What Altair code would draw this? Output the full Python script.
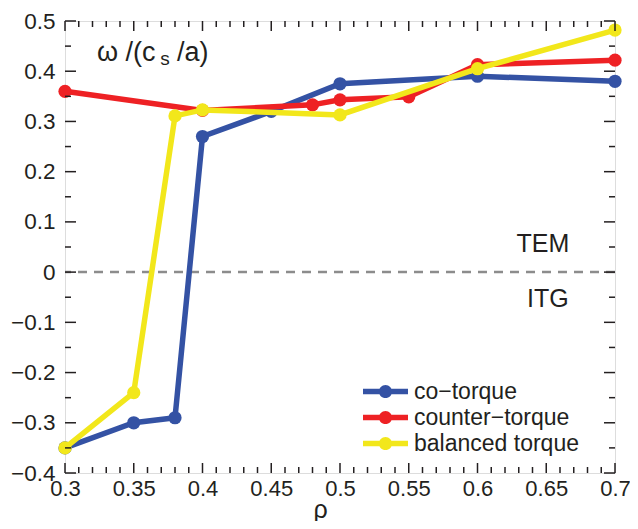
import altair as alt
import pandas as pd

# ---------------- data ----------------
series_names = ["co\u2212torque", "counter\u2212torque", "balanced torque"]
series_colors = ["#3452a4", "#ee2124", "#f2e71b"]

rho_co = [0.30, 0.35, 0.38, 0.40, 0.45, 0.50, 0.60, 0.70]
w_co = [-0.35, -0.30, -0.29, 0.27, 0.32, 0.375, 0.39, 0.38]

rho_counter = [0.30, 0.40, 0.48, 0.50, 0.55, 0.60, 0.70]
w_counter = [0.36, 0.322, 0.333, 0.343, 0.349, 0.413, 0.422]

rho_bal = [0.30, 0.35, 0.38, 0.40, 0.50, 0.60, 0.70]
w_bal = [-0.35, -0.24, 0.311, 0.323, 0.313, 0.405, 0.482]

x_major = [0.30, 0.35, 0.40, 0.45, 0.50, 0.55, 0.60, 0.65, 0.70]
x_minor = [0.31, 0.32, 0.33, 0.34, 0.36, 0.37, 0.38, 0.39, 0.41, 0.42, 0.43, 0.44,
           0.46, 0.47, 0.48, 0.49, 0.51, 0.52, 0.53, 0.54, 0.56, 0.57, 0.58, 0.59,
           0.61, 0.62, 0.63, 0.64, 0.66, 0.67, 0.68, 0.69]
y_major = [-0.4, -0.3, -0.2, -0.1, 0.0, 0.1, 0.2, 0.3, 0.4, 0.5]
y_minor = [-0.35, -0.25, -0.15, -0.05, 0.05, 0.15, 0.25, 0.35, 0.45]

title_main = ["\u03c9 /(c"]
title_main_x = [0.3232]
title_sub = ["s"]
title_sub_x = [0.3692]
title_tail = ["/a)"]
title_tail_x = [0.3814]
title_y = 0.42
title_sub_y = 0.412

regime_labels = ["TEM", "ITG"]
regime_x = [0.6476, 0.6512]
regime_y = [0.04, -0.07]

FONT = "Liberation Sans"
INK = "#231f20"
W, H = 550, 452

x_scale = alt.Scale(domain=[0.3, 0.7], nice=False, zero=False)
y_scale = alt.Scale(domain=[-0.4, 0.5], nice=False, zero=False)
color_scale = alt.Scale(domain=series_names, range=series_colors)

# legend glyph: thick line with a dot, drawn in units of 10 px (symbolSize 400)
legend_path = ("M-2.25,-0.28L2.25,-0.28L2.25,0.28L-2.25,0.28Z "
               "M0.66,0A0.66,0.66 0 1,1 -0.66,0A0.66,0.66 0 1,1 0.66,0Z")

x_axis = alt.Axis(values=x_major, format=".2~f", ticks=False, domain=False, grid=False,
                  labelFontSize=22, labelFont=FONT, labelColor=INK, labelPadding=5,
                  labelOverlap=False, labelFlush=False, labelBound=False,
                  title="\u03c1", titleFont=FONT, titleFontSize=25,
                  titleFontWeight="normal", titleColor=INK, titleX=255, titleY=44,
                  titleBaseline="alphabetic")
y_axis = alt.Axis(values=y_major, format=".2~f", ticks=False, domain=False, grid=False,
                  labelFontSize=22.5, labelFont=FONT, labelColor=INK, labelPadding=10,
                  labelOverlap=False, labelFlush=False, labelBound=False, title=None)

legend = alt.Legend(title=None, orient="none", legendX=309, legendY=359,
                    symbolType=legend_path, symbolSize=400, symbolStrokeWidth=0,
                    symbolOpacity=1, labelLimit=400,
                    labelFontSize=23, labelFont=FONT, labelColor=INK, labelOffset=17,
                    rowPadding=2, padding=0)

X = lambda f: alt.X(f, scale=x_scale, axis=x_axis)
Y = lambda f: alt.Y(f, scale=y_scale, axis=y_axis)

layers = []

# zero dashed line
zero_df = pd.DataFrame({"y": [0.0]})
layers.append(
    alt.Chart(zero_df).mark_rule(color="#8c8c8c", strokeWidth=2.5, strokeDash=[9, 7]).encode(
        y=Y("y:Q")
    )
)

# series
for name, xs, ys in zip(series_names, [rho_co, rho_counter, rho_bal], [w_co, w_counter, w_bal]):
    sdf = pd.DataFrame({"rho": xs, "omega": ys, "series": [name] * len(xs)})
    base = alt.Chart(sdf)
    layers.append(
        base.mark_line(strokeWidth=5.5).encode(
            x=X("rho:Q"), y=Y("omega:Q"),
            color=alt.Color("series:N", scale=color_scale, legend=legend),
        )
    )
    layers.append(
        base.mark_point(filled=True, size=175, opacity=1).encode(
            x=X("rho:Q"), y=Y("omega:Q"),
            color=alt.Color("series:N", scale=color_scale, legend=legend),
        )
    )

# inward ticks on all four sides
def xticks(vals, length):
    d = pd.DataFrame({"v": vals})
    out = []
    for y0, y1 in [(H, H - length), (0, length)]:
        out.append(alt.Chart(d).mark_rule(color=INK, strokeWidth=1.5).encode(
            x=X("v:Q"), y=alt.value(y0), y2=alt.value(y1)))
    return out

def yticks(vals, length):
    d = pd.DataFrame({"v": vals})
    out = []
    for x0, x1 in [(0, length), (W, W - length)]:
        out.append(alt.Chart(d).mark_rule(color=INK, strokeWidth=1.5).encode(
            y=Y("v:Q"), x=alt.value(x0), x2=alt.value(x1)))
    return out

layers += xticks(x_major, 10) + xticks(x_minor, 6) + yticks(y_major, 11) + yticks(y_minor, 6)

# annotation texts
def text_layer(texts, xs, ys, size, align):
    d = pd.DataFrame({"t": texts, "x": xs, "y": ys})
    return alt.Chart(d).mark_text(align=align, baseline="alphabetic", font=FONT,
                                  color=INK, fontSize=size).encode(
        x=X("x:Q"), y=Y("y:Q"), text="t:N")

layers.append(text_layer(title_main, title_main_x, [title_y], 27, "left"))
layers.append(text_layer(title_sub, title_sub_x, [title_sub_y], 19, "left"))
layers.append(text_layer(title_tail, title_tail_x, [title_y], 27, "left"))
layers.append(text_layer(regime_labels, regime_x, regime_y, 25, "center"))

chart = alt.layer(*layers).properties(
    width=W, height=H,
    autosize=alt.AutoSizeParams(type="none"),
    padding={"left": 57, "top": 13, "right": 15, "bottom": 48},
).configure_view(stroke=INK, strokeWidth=2).configure(background="white")

chart.save("out.html", embed_options={"renderer": "svg", "actions": False})
